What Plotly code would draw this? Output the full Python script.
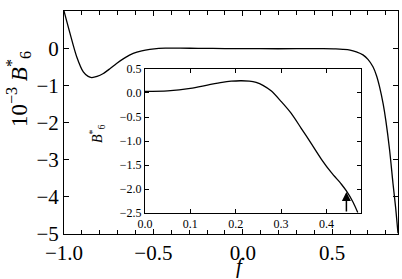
import plotly.graph_objects as go

# Main curve: f vs 10^-3 B6*
main_f = [-1.0, -0.966, -0.929, -0.892, -0.865, -0.845, -0.815, -0.78, -0.745, -0.706, -0.66,
          -0.613, -0.565, -0.52, -0.47, -0.426, -0.35, -0.25, -0.1, 0.1, 0.3, 0.45, 0.52,
          0.56, 0.6, 0.635, 0.672, 0.70, 0.728, 0.748, 0.765, 0.785, 0.80, 0.821, 0.84, 0.855, 0.868]
main_b = [1.0, 0.39, -0.23, -0.64, -0.76, -0.79, -0.76, -0.68, -0.56, -0.41, -0.26,
          -0.14, -0.07, -0.03, -0.005, 0.0, 0.0, -0.005, -0.01, -0.015, -0.015, -0.015, -0.02,
          -0.03, -0.05, -0.1, -0.18, -0.3, -0.5, -0.74, -1.04, -1.5, -1.95, -2.74, -3.64, -4.3, -4.98]

# Inset curve: f vs B6*
ins_f = [0.0, 0.05, 0.1, 0.14, 0.17, 0.19, 0.21, 0.23, 0.245, 0.26, 0.278, 0.3, 0.322, 0.344, 0.367,
         0.389, 0.411, 0.433, 0.444, 0.459, 0.469]
ins_b = [0.035, 0.045, 0.095, 0.17, 0.222, 0.245, 0.255, 0.248, 0.22, 0.16, 0.045, -0.175, -0.42, -0.73, -1.06,
         -1.38, -1.66, -1.9, -2.04, -2.28, -2.49]

# Arrow marker in the inset
arrow_f = 0.444
arrow_from = -2.5
arrow_to = -2.06

serif = "Liberation Serif"

fig = go.Figure()
fig.add_trace(go.Scatter(x=main_f, y=main_b, mode="lines", line=dict(color="black", width=1.3, shape="spline", smoothing=0.8),
                         xaxis="x", yaxis="y", showlegend=False))
fig.add_trace(go.Scatter(x=ins_f, y=ins_b, mode="lines", line=dict(color="black", width=1.3, shape="spline", smoothing=0.8),
                         xaxis="x2", yaxis="y2", showlegend=False))

axis_common = dict(showgrid=False, zeroline=False, showline=True, linecolor="black", linewidth=1,
                   mirror="ticks", ticks="inside", tickcolor="black")

fig.update_layout(
    width=402, height=279,
    margin=dict(l=64, r=4, t=11, b=45),
    paper_bgcolor="white", plot_bgcolor="white",
    font=dict(family=serif, color="black"),
    xaxis=dict(domain=[0, 1], range=[-1.0, 0.868], tick0=-1.0, dtick=0.5, tickformat=".1f", ticklen=5,
               tickfont=dict(size=21, family=serif),
               minor=dict(tick0=-1.0, dtick=0.1, ticks="inside", ticklen=4, tickcolor="black"),
               **axis_common),
    yaxis=dict(domain=[0, 1], range=[-5, 1], tick0=-5, dtick=1, ticklen=5,
               tickfont=dict(size=21, family=serif), **axis_common),
    xaxis2=dict(domain=[0.2425, 0.889], range=[0, 0.476], anchor="y2", tick0=0, dtick=0.1, tickformat=".1f",
                ticklen=4, tickfont=dict(size=12, family=serif), **axis_common),
    yaxis2=dict(domain=[0.094, 0.740], range=[-2.5, 0.5], anchor="x2", tick0=-2.5, dtick=0.5, tickformat=".1f",
                ticklen=4, tickfont=dict(size=12, family=serif), **axis_common),
)

fig.add_annotation(x=arrow_f, y=arrow_to, ax=arrow_f, ay=arrow_from, xref="x2", yref="y2", axref="x2", ayref="y2",
                   showarrow=True, arrowhead=2, arrowsize=1.2, arrowwidth=1.5, arrowcolor="black", text="")

fig.add_annotation(text="10<sup>−3</sup> <i>B</i><sup>*</sup><sub>6</sub>", xref="paper", yref="paper",
                   x=(18 - 64) / 334, y=(234 - 89) / 223, textangle=-90, showarrow=False, font=dict(size=23, family=serif),
                   xanchor="center", yanchor="middle")
fig.add_annotation(text="<i>f</i>", xref="paper", yref="paper", x=(240 - 64) / 334, y=(234 - 266) / 223,
                   showarrow=False, font=dict(size=21, family=serif), xanchor="center", yanchor="middle")
fig.add_annotation(text="<i>B</i><sup>*</sup><sub>6</sub>", xref="paper", yref="paper",
                   x=(97 - 64) / 334, y=(234 - 134) / 223, textangle=-90, showarrow=False,
                   font=dict(size=14, family=serif), xanchor="center", yanchor="middle")

fig.write_html("out.html")
